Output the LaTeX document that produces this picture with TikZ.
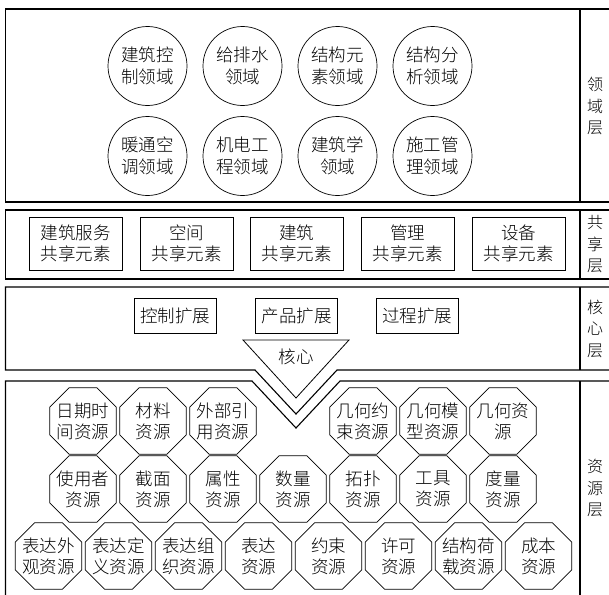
\documentclass[tikz,border=0pt]{standalone}
\usepackage{fontspec}
\setmainfont{Noto Sans CJK SC Light}
\usetikzlibrary{shapes.geometric}
\begin{document}
\begin{tikzpicture}[x=1pt,y=-1pt,
  layerline/.style={line width=1.1pt},
  txtf/.style={font=\fontsize{17.5}{21.5}\selectfont},
  dombox/.style={circle,draw,line width=0.7pt,minimum size=79pt,inner sep=0pt,align=center,txtf},
  sharebox/.style={rectangle,draw,line width=0.8pt,minimum width=93pt,minimum height=53pt,inner sep=0pt,align=center,txtf},
  extbox/.style={rectangle,draw,line width=0.8pt,minimum width=82pt,minimum height=35pt,inner sep=0pt,txtf},
  resbox/.style={regular polygon,regular polygon sides=8,draw,line width=0.7pt,minimum size=72pt,inner sep=-5pt,align=center,font=\fontsize{17.5}{21}\selectfont},
  labbox/.style={align=center,inner sep=0pt,font=\fontsize{16}{21.5}\selectfont}]
\useasboundingbox (0,0) rectangle (609,594);
\clip (0,0) rectangle (609,594);
% layer frames
\draw[layerline] (615,9) -- (5.5,9) -- (5.5,202) -- (615,202);
\draw[layerline] (580,9) -- (580,202);
\draw[layerline] (615,210) -- (5.5,210) -- (5.5,279) -- (615,279);
\draw[layerline] (580,210) -- (580,279);
\coordinate (cvl) at (255,370);
\coordinate (cva) at (296,414);
\coordinate (cvr) at (337,370);
\draw[layerline] (615,287) -- (5.5,287) -- (5.5,370) -- (cvl) -- (cva) -- (cvr) -- (615,370);
\draw[layerline] (580,287) -- (580,370);
\coordinate (rvl) at (252,381);
\coordinate (rva) at (296,428);
\coordinate (rvr) at (340,381);
\draw[layerline] (5.5,600) -- (5.5,381) -- (rvl) -- (rva) -- (rvr) -- (615,381);
\draw[layerline] (580,381) -- (580,600);
% layer labels
\node[labbox] (l1) at (595,106) {领\\域\\层};
\node[labbox] (l2) at (595,244.5) {共\\享\\层};
\node[labbox] (l3) at (595,328.5) {核\\心\\层};
\node[labbox] (l4) at (595,488) {资\\源\\层};
% domain layer
\node[dombox] (d1) at (147.5,66) {建筑控\\制领域};
\node[dombox] (d2) at (242.5,66) {给排水\\领域};
\node[dombox] (d3) at (337.5,66) {结构元\\素领域};
\node[dombox] (d4) at (432.5,66) {结构分\\析领域};
\node[dombox] (d5) at (147.5,156) {暖通空\\调领域};
\node[dombox] (d6) at (242.5,156) {机电工\\程领域};
\node[dombox] (d7) at (337.5,156) {建筑学\\领域};
\node[dombox] (d8) at (432.5,156) {施工管\\理领域};
% shared layer
\node[sharebox] (s1) at (75.5,243.5) {建筑服务\\共享元素};
\node[sharebox] (s2) at (186.5,243.5) {空间\\共享元素};
\node[sharebox] (s3) at (296.5,243.5) {建筑\\共享元素};
\node[sharebox] (s4) at (407.5,243.5) {管理\\共享元素};
\node[sharebox] (s5) at (518.5,243.5) {设备\\共享元素};
% core layer
\node[extbox] (e1) at (175,315.5) {控制扩展};
\node[extbox] (e2) at (296.5,315.5) {产品扩展};
\node[extbox] (e3) at (417,315.5) {过程扩展};
\coordinate (tl) at (243,340);
\coordinate (tr) at (349,340);
\coordinate (ta) at (296,398);
\draw[line width=0.8pt] (tl) -- (tr) -- (ta) -- cycle;
\node[txtf,inner sep=0pt] (core) at (296,357) {核心};
% resource layer
\node[resbox] (r1) at (83,421) {日期时\\间资源};
\node[resbox] (r2) at (153,421) {材料\\资源};
\node[resbox] (r3) at (223,421) {外部引\\用资源};
\node[resbox] (r4) at (363,421) {几何约\\束资源};
\node[resbox] (r5) at (433,421) {几何模\\型资源};
\node[resbox] (r6) at (503,421) {几何资\\源};
\node[resbox] (r7) at (83,489) {使用者\\资源};
\node[resbox] (r8) at (153,489) {截面\\资源};
\node[resbox] (r9) at (223,489) {属性\\资源};
\node[resbox] (r10) at (293,489) {数量\\资源};
\node[resbox] (r11) at (363,489) {拓扑\\资源};
\node[resbox] (r12) at (433,489) {工具\\资源};
\node[resbox] (r13) at (503,489) {度量\\资源};
\node[resbox] (r14) at (48.5,556) {表达外\\观资源};
\node[resbox] (r15) at (118.5,556) {表达定\\义资源};
\node[resbox] (r16) at (188.5,556) {表达组\\织资源};
\node[resbox] (r17) at (258.5,556) {表达\\资源};
\node[resbox] (r18) at (328.5,556) {约束\\资源};
\node[resbox] (r19) at (398.5,556) {许可\\资源};
\node[resbox] (r20) at (468.5,556) {结构荷\\载资源};
\node[resbox] (r21) at (538.5,556) {成本\\资源};
\end{tikzpicture}
\end{document}
